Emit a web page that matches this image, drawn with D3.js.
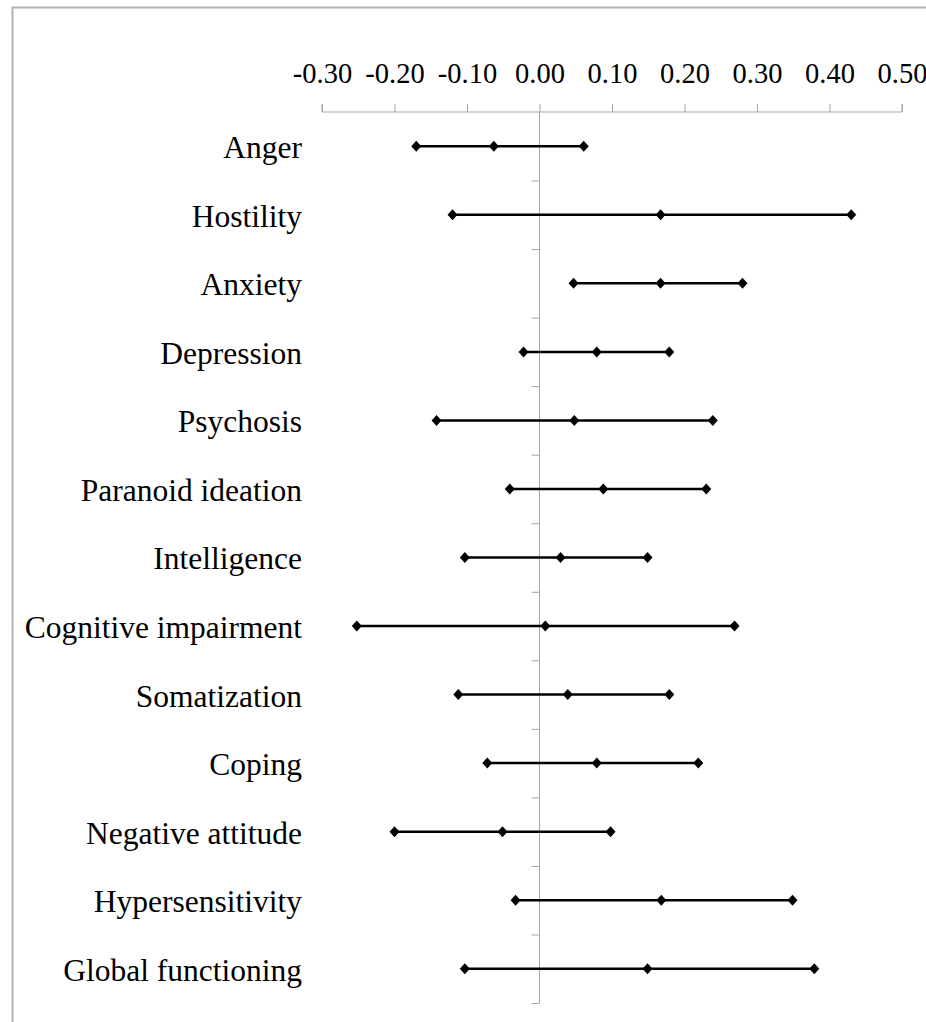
<!DOCTYPE html>
<html>
<head>
<meta charset="utf-8">
<script src="https://cdn.jsdelivr.net/npm/d3@7"></script>
<style>
  body { margin: 0; background: #fff; }
  svg { display: block; }
  text { font-family: "Liberation Serif", "Times New Roman", serif; fill: #000; }
</style>
</head>
<body>
<div id="chart"></div>
<script>
// categories, top to bottom
const categories = ["Anger", "Hostility", "Anxiety", "Depression", "Psychosis",
    "Paranoid ideation", "Intelligence", "Cognitive impairment", "Somatization",
    "Coping", "Negative attitude", "Hypersensitivity", "Global functioning"];

// lower bound, estimate, upper bound
const lower = [-0.17, -0.12, 0.047, -0.022, -0.142, -0.041, -0.103, -0.252, -0.112, -0.072, -0.20, -0.033, -0.103];
const estimate = [-0.063, 0.167, 0.167, 0.079, 0.048, 0.088, 0.029, 0.008, 0.039, 0.079, -0.051, 0.168, 0.149];
const upper = [0.061, 0.43, 0.28, 0.179, 0.239, 0.23, 0.149, 0.269, 0.179, 0.219, 0.098, 0.349, 0.379];

const xTicks = [-0.3, -0.2, -0.1, 0, 0.1, 0.2, 0.3, 0.4, 0.5];

const width = 926, height = 1022;
const axisColor = "#a6a6a6";

const svg = d3.select("#chart").append("svg")
    .attr("width", width)
    .attr("height", height);

// frame (only top and left edges show in the picture)
svg.append("path")
    .attr("d", `M12.5,${height} V7.5 H${width}`)
    .attr("fill", "none")
    .attr("stroke", "#b4b4b4")
    .attr("stroke-width", 2);

const x = d3.scaleLinear().domain([-0.3, 0.5]).range([322, 902]);
const y = d3.scaleBand().domain(categories).range([112, 1003]);
const yIdx = d3.scaleLinear().domain([0, categories.length]).range([112, 1003]);

// top value axis
const xAxis = svg.append("g")
    .attr("transform", "translate(0,112)")
    .call(d3.axisTop(x).tickValues(xTicks).tickSize(8).tickFormat(d => d.toFixed(2)));
xAxis.select(".domain").attr("stroke", axisColor).attr("d", "M322,-8V0H902V-8");
xAxis.selectAll(".tick line").attr("stroke", axisColor);
xAxis.selectAll(".tick text")
    .attr("y", -29)
    .attr("dy", 0)
    .style("font-size", "28.5px")
    .style("font-family", "Liberation Serif, Times New Roman, serif");

// vertical category axis at zero
const yAxis = svg.append("g")
    .attr("transform", `translate(${x(0)},0)`)
    .call(d3.axisLeft(yIdx).tickValues(d3.range(1, categories.length + 1)).tickSize(8).tickFormat(""));
yAxis.select(".domain").attr("stroke", axisColor).attr("d", `M0,112V1003`);
yAxis.selectAll(".tick line").attr("stroke", axisColor);

// category labels
svg.append("g").selectAll("text")
    .data(categories)
    .join("text")
    .attr("x", 302)
    .attr("y", d => y(d) + y.bandwidth() / 2)
    .attr("dy", "0.38em")
    .attr("text-anchor", "end")
    .style("font-size", "31.5px")
    .text(d => d);

// interval lines
const rows = categories.map((c, i) => ({ cat: c, lo: lower[i], est: estimate[i], hi: upper[i] }));

svg.append("g").selectAll("line")
    .data(rows)
    .join("line")
    .attr("x1", d => x(d.lo))
    .attr("x2", d => x(d.hi))
    .attr("y1", d => y(d.cat) + y.bandwidth() / 2)
    .attr("y2", d => y(d.cat) + y.bandwidth() / 2)
    .attr("stroke", "#000")
    .attr("stroke-width", 2.5);

// diamond markers
const pts = rows.flatMap(d => [d.lo, d.est, d.hi].map(v => ({ cat: d.cat, v: v })));
svg.append("g").selectAll("path")
    .data(pts)
    .join("path")
    .attr("transform", d => `translate(${x(d.v)},${y(d.cat) + y.bandwidth() / 2})`)
    .attr("d", "M0,-5.5L5,0L0,5.5L-5,0Z")
    .attr("fill", "#000");
</script>
</body>
</html>
